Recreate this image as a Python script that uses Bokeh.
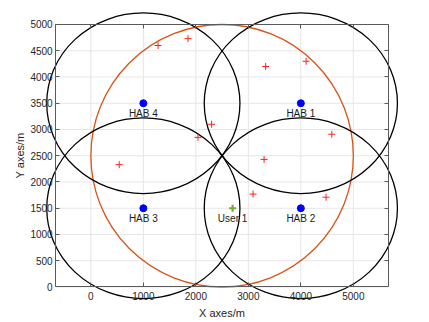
from bokeh.plotting import figure
from bokeh.models import LinearAxis, FixedTicker, Range1d
from bokeh.core.properties import value
from bokeh.embed import file_html
from bokeh.resources import INLINE

# ---- data ----
hab_names = ["HAB 1", "HAB 2", "HAB 3", "HAB 4"]
hab_x = [4000, 4000, 1000, 1000]
hab_y = [3500, 1500, 1500, 3500]
cover_rx = 1840
cover_ry = 1720

area_cx = [2500]
area_cy = [2500]
area_d = [5000]

user_names = ["User 1"]
user_x = [2700]
user_y = [1500]

cand_x = [1280, 1850, 3330, 4100, 4590, 2300, 2040, 540, 3090, 4480, 3300]
cand_y = [4600, 4730, 4200, 4300, 2910, 3100, 2850, 2330, 1770, 1710, 2430]

x_ticks = [0, 1000, 2000, 3000, 4000, 5000]
y_ticks = [0, 500, 1000, 1500, 2000, 2500, 3000, 3500, 4000, 4500, 5000]
x_lim = (-670, 5670)
y_lim = (0, 5000)

FONT = "Liberation Sans"
AX_COL = "#5a5a5a"
TXT_COL = "#262626"

p = figure(width=413, height=318,
           x_range=Range1d(-1721, 6146), y_range=Range1d(-600, 5457),
           output_backend="svg", toolbar_location=None,
           x_axis_location=None, y_axis_location=None,
           min_border=0, min_border_left=0, min_border_right=0,
           min_border_top=0, min_border_bottom=0,
           outline_line_color=None, background_fill_color="white",
           border_fill_color="white")
for g in p.grid:
    g.visible = False

# grid lines inside the axes box
p.segment(x0=x_ticks, y0=[y_lim[0]] * len(x_ticks), x1=x_ticks, y1=[y_lim[1]] * len(x_ticks),
          line_color="#e6e6e6", line_width=1)
p.segment(x0=[x_lim[0]] * len(y_ticks), y0=y_ticks, x1=[x_lim[1]] * len(y_ticks), y1=y_ticks,
          line_color="#e6e6e6", line_width=1)

# coverage area and HAB coverage circles
p.ellipse(x=area_cx, y=area_cy, width=area_d, height=area_d,
          fill_color=None, line_color="#D95319", line_width=1.3)
p.ellipse(x=hab_x, y=hab_y, width=[2 * cover_rx] * len(hab_x), height=[2 * cover_ry] * len(hab_x),
          fill_color=None, line_color="black", line_width=1.3)

# points
p.scatter(cand_x, cand_y, marker="cross", size=7, line_color="#ff2020", line_width=1)
p.scatter(user_x, user_y, marker="cross", size=7, line_color="#77AC30", line_width=2.2)
p.scatter(hab_x, hab_y, marker="circle", size=7, fill_color="#0000ff", line_color="#0000ff")

p.text(x=hab_x, y=hab_y, text=hab_names, text_align="center", text_baseline="top",
       y_offset=5, text_font_size="10px", text_font=value(FONT), text_color="#1a1a1a")
p.text(x=user_x, y=user_y, text=user_names, text_align="center", text_baseline="top",
       y_offset=5, text_font_size="10px", text_font=value(FONT), text_color="#1a1a1a")


def style(ax, labels=True):
    ax.axis_line_color = AX_COL
    ax.axis_line_width = 1
    ax.major_tick_line_color = AX_COL
    ax.major_tick_in = 4
    ax.major_tick_out = 0
    ax.minor_tick_line_color = None
    ax.major_label_text_font = FONT
    ax.major_label_text_font_size = "10px"
    ax.major_label_text_color = TXT_COL if labels else None
    ax.axis_label_text_font = FONT
    ax.axis_label_text_font_size = "11px"
    ax.axis_label_text_font_style = "normal"
    ax.axis_label_text_color = TXT_COL


xb = LinearAxis(ticker=FixedTicker(ticks=x_ticks), fixed_location=y_lim[0], bounds=x_lim,
                axis_label="X axes/m", major_label_standoff=5, axis_label_standoff=4)
style(xb)
p.add_layout(xb, "below")

yl = LinearAxis(ticker=FixedTicker(ticks=y_ticks), fixed_location=x_lim[0], bounds=y_lim,
                axis_label="Y axes/m", major_label_standoff=3, axis_label_standoff=1)
style(yl)
p.add_layout(yl, "left")

xt = LinearAxis(ticker=FixedTicker(ticks=x_ticks), fixed_location=y_lim[1], bounds=x_lim)
style(xt, labels=False)
p.add_layout(xt, "above")

yr = LinearAxis(ticker=FixedTicker(ticks=y_ticks), fixed_location=x_lim[1], bounds=y_lim)
style(yr, labels=False)
p.add_layout(yr, "right")

open("out.html", "w").write(file_html(p, INLINE))
